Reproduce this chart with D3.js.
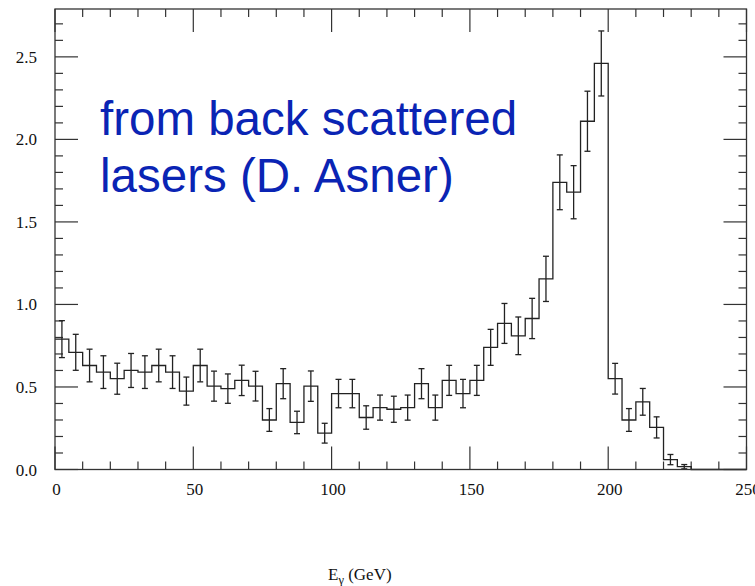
<!DOCTYPE html>
<html>
<head>
<meta charset="utf-8">
<script src="https://cdn.jsdelivr.net/npm/d3@7"></script>
<style>
  html, body { margin: 0; padding: 0; background: #fff; }
  svg { display: block; }
</style>
</head>
<body>
<svg id="chart" width="755" height="586"></svg>
<script>
// Photon energy spectrum, 5 GeV bins from 0 to 250 GeV
const binWidth = 5;
const binCounts = [
  0.79, 0.71, 0.63, 0.59, 0.55, 0.60, 0.59, 0.63, 0.59, 0.475,
  0.63, 0.505, 0.49, 0.54, 0.505, 0.30, 0.52, 0.285, 0.505, 0.22,
  0.46, 0.46, 0.315, 0.375, 0.365, 0.375, 0.52, 0.375, 0.54, 0.46,
  0.54, 0.74, 0.885, 0.81, 0.915, 1.155, 1.74, 1.68, 2.11, 2.46,
  0.55, 0.30, 0.41, 0.255, 0.06, 0.017, 0, 0, 0, 0
];
const binErrors = [
  0.112, 0.109, 0.099, 0.099, 0.094, 0.103, 0.099, 0.099, 0.099, 0.085,
  0.099, 0.091, 0.089, 0.092, 0.090, 0.069, 0.091, 0.068, 0.092, 0.060,
  0.086, 0.086, 0.071, 0.076, 0.079, 0.076, 0.091, 0.076, 0.091, 0.086,
  0.091, 0.109, 0.121, 0.114, 0.122, 0.137, 0.166, 0.161, 0.182, 0.197,
  0.093, 0.069, 0.081, 0.064, 0.031, 0.013, 0, 0, 0, 0
];
const xMajorTicks = [0, 50, 100, 150, 200, 250];
const yMajorTicks = [0.0, 0.5, 1.0, 1.5, 2.0, 2.5];
const annotationLines = ["from back scattered", "lasers (D. Asner)"];

const svg = d3.select("#chart");
const W = 755, H = 586;
const margin = { left: 55, right: 8.5, top: 9, bottom: 116.5 };
const x = d3.scaleLinear().domain([0, 250]).range([margin.left, W - margin.right]);
const y = d3.scaleLinear().domain([0, 2.79]).range([H - margin.bottom, margin.top]);

const ink = "#222";
const frameInk = "#333";

// Ticks on all four sides, pointing inward
const xMinor = d3.range(0, 251, 10).filter(v => v % 50 !== 0);
const yMinor = d3.range(0, 2.79, 0.1).map(v => +v.toFixed(1)).filter(v => Math.round(v * 10) % 5 !== 0);
const majorLen = 23, minorLen = 8;

const ticks = svg.append("g").attr("stroke", frameInk).attr("stroke-width", 1.2);
const x0 = x.range()[0], x1 = x.range()[1];
const yb = y.range()[0], yt = y.range()[1];

xMajorTicks.concat(xMinor).forEach(v => {
  const len = xMajorTicks.includes(v) ? majorLen : minorLen;
  ticks.append("line").attr("x1", x(v)).attr("x2", x(v)).attr("y1", yb).attr("y2", yb - len);
  ticks.append("line").attr("x1", x(v)).attr("x2", x(v)).attr("y1", yt).attr("y2", yt + len);
});
yMajorTicks.concat(yMinor).forEach(v => {
  const len = yMajorTicks.includes(v) ? majorLen : minorLen;
  ticks.append("line").attr("y1", y(v)).attr("y2", y(v)).attr("x1", x0).attr("x2", x0 + len);
  ticks.append("line").attr("y1", y(v)).attr("y2", y(v)).attr("x1", x1).attr("x2", x1 - len);
});

// Tick labels
const labelFont = "'Liberation Serif', 'DejaVu Serif', serif";
svg.append("g").selectAll("text").data(xMajorTicks).join("text")
  .attr("x", d => x(d) + 1.5).attr("y", yb + 25)
  .attr("text-anchor", "middle")
  .attr("font-family", labelFont).attr("font-size", 17).attr("fill", "#111")
  .text(d => d);
svg.append("g").selectAll("text").data(yMajorTicks).join("text")
  .attr("x", x0 - 18).attr("y", d => y(d) + 6)
  .attr("text-anchor", "end")
  .attr("font-family", labelFont).attr("font-size", 17).attr("fill", "#111")
  .text(d => d.toFixed(1));

// Histogram outline as a step path
const bins = binCounts.map((v, i) => ({ lo: i * binWidth, hi: (i + 1) * binWidth, v, e: binErrors[i] }));
const stepPts = [];
bins.forEach(b => { stepPts.push([b.lo, b.v]); stepPts.push([b.hi, b.v]); });
svg.append("path")
  .attr("d", d3.line().x(d => x(d[0])).y(d => y(d[1]))(stepPts))
  .attr("fill", "none").attr("stroke", ink).attr("stroke-width", 1.3);

// Error bars with caps
const capHalf = 3;
const eb = svg.append("g").attr("stroke", ink).attr("stroke-width", 1.3);
bins.filter(b => b.e > 0).forEach(b => {
  const cx = x((b.lo + b.hi) / 2);
  const top = y(b.v + b.e), bot = y(b.v - b.e);
  eb.append("line").attr("x1", cx).attr("x2", cx).attr("y1", top).attr("y2", bot);
  eb.append("line").attr("x1", cx - capHalf).attr("x2", cx + capHalf).attr("y1", top).attr("y2", top);
  eb.append("line").attr("x1", cx - capHalf).attr("x2", cx + capHalf).attr("y1", bot).attr("y2", bot);
});

// Frame
svg.append("rect")
  .attr("x", x0).attr("y", yt).attr("width", x1 - x0).attr("height", yb - yt)
  .attr("fill", "none").attr("stroke", frameInk).attr("stroke-width", 1.3);

// Annotation
const note = svg.append("text")
  .attr("font-family", "'Liberation Sans', Arial, sans-serif")
  .attr("font-size", 47.5).attr("fill", "#0a24b4");
annotationLines.forEach((line, i) => {
  note.append("tspan").attr("x", 100).attr("y", 135 + i * 56.5).text(line);
});

// X axis title
const title = svg.append("text")
  .attr("x", 328).attr("y", 580)
  .attr("font-family", labelFont).attr("font-size", 17).attr("fill", "#111");
title.append("tspan").text("E");
title.append("tspan").attr("font-size", 12.5).attr("dy", 4).text("γ");
title.append("tspan").attr("dy", -4).text(" (GeV)");
</script>
</body>
</html>
